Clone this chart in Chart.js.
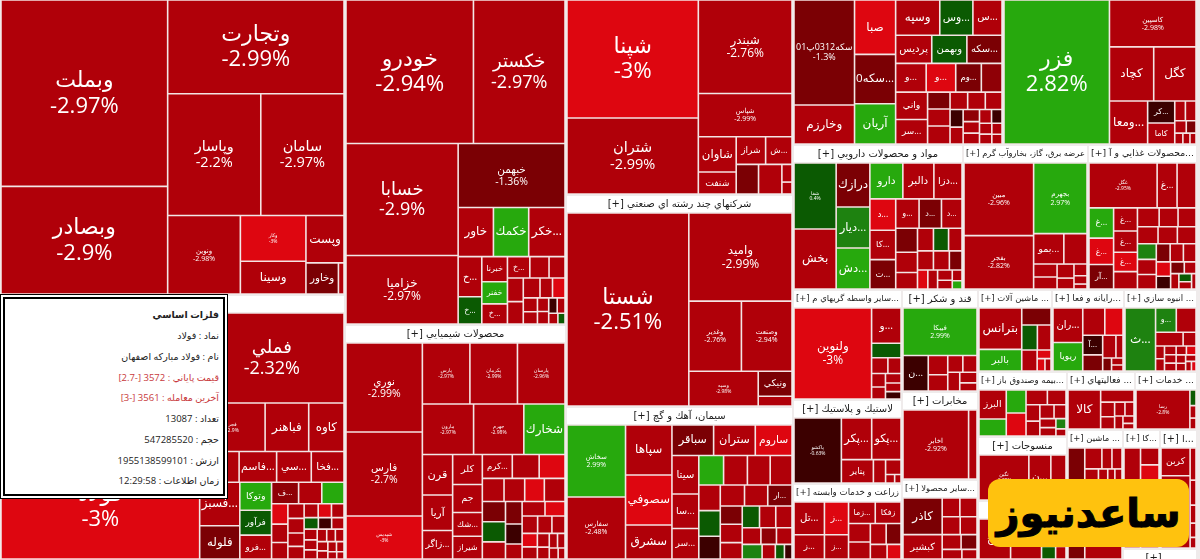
<!DOCTYPE html>
<html lang="fa">
<head>
<meta charset="utf-8">
<style>
html,body{margin:0;padding:0;background:#efebeb;width:1200px;height:559px;overflow:hidden}
#wrap{position:relative;width:1200px;height:559px}
canvas{position:absolute;left:0;top:0}
#tip{position:absolute;left:0;top:294px;width:228px;height:205px;box-sizing:border-box;background:#fff;border:1px solid #000;font-family:"Open Sans","DejaVu Sans",sans-serif;color:#222}
#tip .in{position:absolute;left:2px;top:2px;right:2px;bottom:2px;border:2px solid #000;background:#fff}
#tip p{position:absolute;right:4px;margin:0;direction:rtl;white-space:nowrap;line-height:14px;font-size:9.5px}
#tip .r{color:#c8393c}
#mark{position:absolute;left:988px;top:479px;width:201px;height:68px;background:#ffc20e;border-radius:12px;display:flex;align-items:center;justify-content:center;font:bold 40px "DejaVu Sans",sans-serif;color:#000;direction:rtl;-webkit-text-stroke:1px #000}
</style>
</head>
<body>
<div id="wrap">
<canvas id="c" width="1200" height="559"></canvas>
<div id="tip"><div class="in">
<p style="top:9px;font-weight:bold">فلزات اساسي</p>
<p style="top:30px">نماد : فولاد</p>
<p style="top:51px">نام : فولاد مباركه اصفهان</p>
<p style="top:72px" class="r">قيمت پاياني : 3572 [-2.7]</p>
<p style="top:92px" class="r">آخرين معامله : 3561 [-3]</p>
<p style="top:113px">تعداد : 13087</p>
<p style="top:134px">حجم : 547285520</p>
<p style="top:155px">ارزش : 1955138599101</p>
<p style="top:175px">زمان اطلاعات : 12:29:58</p>
</div></div>
<div id="mark">ساعدنیوز</div>
</div>
<script src="https://cdn.jsdelivr.net/npm/chart.js@4"></script>
<script>
const sectorNames=['بانكها','فلزات اساسي','خودرو و ساخت قطعات','محصولات شيميايي','فرآورده هاي نفتي','شركتهاي چند رشته اي صنعتي','سيمان، آهك و گچ','سرمايه گذاريها','استخراج كانه هاي فلزي','مواد و محصولات دارويي','عرضه برق، گاز، بخاروآب گرم','محصولات غذايي و آ...','ساير واسطه گريهاي م...','لاستيك و پلاستيك','زراعت و خدمات وابسته','قند و شكر','مخابرات','ساير محصولا...','ماشين آلات ...','رايانه و فعا...','انبوه سازي ...','بيمه وصندوق باز...','منسوجات','ساير ...','فعاليتهاي ...','خدمات ...','ماشين ...','كا...','ا...','...'];
const sectorWeights=[107985,91425,75803,51935,48351,48124,34731,34230,31622,24650,18125,15805,11990,9156,8284,7752,6688,6080,6068,5904,5986,5785,5696,5251,3944,3596,7280,4403,4403,814];
const sectorStrips=[2,2,3,-2,-3,3,3,-3,3,-2,1,-2,-1];

const stockNames=[
['وبملت','وبصادر','وتجارت','وپاسار','سامان','ونوين','وكار','وسينا','وپست','وخاور'],
['','فولاد','فملي','فجر','فباهنر','كاوه','','فاسم...','سي...','فخا...','فسبز...','فلوله','وتوكا','فرآور','فرو...','ف...'],
['خودرو','خكستر','خسابا','خزاميا','خبهمن','خاور','خكمك','خكر...','خ...','خ...','خبرنا','خفنر','خ...','خ...'],
['نوري','فارس','شپديس','پارس','پكرمان','پارسان','مارون','جهرم','شخارك','قرن','آريا','زاگر...','كلر','جم','شك...','شيراز','كرم...'],
['شپنا','شتران','شبندر','شپاس','شاوان','شنفت','شراز','ش...'],
['شستا','واميد','وغدير','وصنعت','وسپه','ونيكي'],
['سخاش','سفارس','سپاها','سصوفي','سشرق','سباقر','ستران','ساروم','سيتا','سا...','سر...','','','','','','','','','','ار...'],
['سكه0312پ01','وخارزم','صبا','سكه0...','آريان','وسپه','وس...','س...','پرديس','وبهمن','سكه...','و...','و...','وم...','','واني','سر...'],
['فزر','كاسپين','كچاد','كگل','ومعا...','كر...','كاما'],
['شفا','بخش','درازك','ديار...','دش...','دارو','دالبر','دزا...','د...','كا...','ت...','و...','د...','د...'],
['مبين','بفجر','بجهرم','بمو...'],
['غگل','غ...','','غ...','غ...','آر...','غ...','غ...','غ...'],
['ولنوين','و...'],
['پاكشو','پكر...','پكو...','پتاير'],
['تل...','ز...','ز...','ز...','زما...','زفكا'],
['فيبكا','ن...'],
['اخابر'],
['كاذر','كبشير'],
['بترانس','بالبر'],
['ران...','ريويا','','','آ...'],
['ث...','و...'],
['البرز'],
['نگين','ن...'],
['ح...'],
['كالا'],
['رسا'],
[],
[],
['كربن'],
[]
];
const stockWeights=[
[31062,17869,16461,11253,10043,5621,2925,2080,1739,960,150],
[28200,20600,12900,3100,2050,1650,1160,1102,1015,957,1680,1280,837,744,713,540,460,440,300,270,240,210,210,190,180,170,160,150,140,130,120,120,110,100,100,90,90,80,70,70,60,50,40],
[18161,13013,12430,7571,6720,1666,1666,1715,897,598,600,525,475,440,374,308,340,320,300,220,220,170,150,130,120,110,100,80,60],
[6688,6308,3192,2820,2820,2820,2500,2450,2000,1170,1020,810,840,780,660,630,672,600,576,460,437,414,437,430,430,360,340,300,220,300,260,240,220,200,180,160,140,120,100,90,80,60],
[15210,9750,8556,3906,1258,777,756,675,609,638,153,99],
[23353,8961,3588,3450,2330,792,297],
[4047,3477,2205,2205,1485,1189,1189,1044,962,858,754,672,644,616,588,500,500,440,460,440,460,360,360,320,336,315,315,272,224,224,255,165,110,90],
[6136,2242,2120,1920,1560,1462,1088,952,945,918,918,810,783,675,540,810,720,340,340,360,270,270,255,200,190,170,160,150,140,120,110,100,90,80],
[14872,3915,2288,2184,1554,546,520,180,180,120,100,70,60,50],
[2535,2301,1333,1240,1240,1056,992,896,713,667,667,600,575,525,450,378,306,306,289,255,256,256,200,160,150,120,100,80,60],
[4970,3640,3692,870,660,273,252,210,160,130,90,50],
[2814,798,756,660,572,528,483,441,399,357,352,304,288,300,280,270,250,240,230,210,200,190,170,150,130,110,100,80,70,50],
[7290,1032,408,240,190,170,150,130,120,100],
[2961,1189,1148,693,252,200,60,40],
[952,700,748,550,540,520,370,340,300,280,220,180],
[3450,851,342,288,225,210,200,160,120],
[4356,528],
[1330,875,290,280,280,260,240,200,160,120],
[1722,882,464,360,312,294,100,80,60],
[918,756,528,432,336,272,255,130,90,60,50],
[1764,440,418,324,144,90,85,80,75,70,70,65,60,55,50,40,30],
[784,448,440,440,300,260,210,190,180,150,130,120,90,60],
[2315,1000,680],
[1100,600,450,300,250,140,100],
[1476,448,220,180,150,130,110,80,60],
[2320,90,70,60],
[1665,300,170,170,300,200,150,150,1300,800],
[1700,300,280,600,350,270],
[784,2100,170,130,90,70,50],
[500]
];
const stockChanges=[
[-2.97,-2.9,-2.99,-2.2,-2.97,-2.98,-3,-2.9,-2.9,-1.5,-2.9],
[-2.9,-3,-2.32,-2.9,-2.9,-2.9,-2.9,-2.9,-2.9,-2.9,-2.9,-1.5,2.8,0.9,-2.9,-1.6,-2.9,2.7,-3,-2.9,-2.9,-2.9,-2.9,-2.9,-2.9,-2.9,-3,-2.9,0.6,-0.6,-2.9,-2.9,-2.9,-2.9,-2.9,-2.9,-2.9,-2.9,-2.9,-2.9,-2.9,-2.9,-2.9],
[-2.94,-2.97,-2.9,-2.97,-1.36,-2.9,2.8,-2.9,-2.9,0.5,-2.9,2.8,-2.9,-2.9,-2.9,-2.9,-2.9,-2.9,-2.9,-2.9,-3,-2.9,-2.9,-2.9,-2.9,-0.5,-2.9,-2.9,0.6],
[-2.99,-2.7,-3,-2.97,-2.99,-2.96,-2.97,-2.98,2.8,-2.9,-2.9,-2.9,-2.9,-2.9,-2.9,-2.9,-2.9,-2.9,-3,-2.9,-2.9,-3,-2.9,-1.5,0.9,-2.9,-1.5,-0.5,-2.9,-2.9,-3,-2.9,-2.9,-2.9,-3,-2.9,-2.9,-2.9,-2.9,-2.9,-2.9,-2.9],
[-3,-2.99,-2.76,-2.99,-2.9,-2.9,-2.9,-2.9,-1.4,-2.9,-2.9,-2.9],
[-2.51,-2.99,-2.76,-2.94,-2.98,-1.5,-2.9],
[2.99,-2.48,-2.9,-3,-2.9,-1.5,-2.9,-3,-2.9,-2.9,-2.9,2.8,-2.9,-2.9,-2.9,-2.9,0.4,-0.5,-2.9,-2.9,-1.5,-1.5,-2.9,-2.9,0.4,-2.9,-2.9,-2.9,-1.6,-2.9,1.5,-2.9,0.4,-0.7],
[-1.3,-2.9,-3,-1.3,2.8,-2.9,0.4,-2.9,-2.9,0.4,-1.4,-2.9,-3,-1.4,-1.6,-2.9,-2.9,-1.5,-2.9,-2.9,-2.9,-2.9,-2.9,-0.5,-2.9,-1.6,-2.9,-2.9,-2.9,-0.5,-2.9,-2.9,-2.9,-2.9],
[2.82,-2.98,-2.9,-2.9,-2.9,-0.5,-2.9,-2.9,-2.9,-2.9,-1.5,-2.9,-2.9,-2.9],
[0.4,-2.9,-1.4,1.3,2.8,2.8,-2.9,-2.9,-3,-2.9,-1.2,-2.9,-1.4,-2.9,-1.5,-2.9,-2.9,-2.9,0.4,-2.9,-2.9,-2.9,-1.5,-3,-2.9,-2.9,-2.9,-2.9,2.7],
[-2.96,-2.82,2.97,-2.9,-2.9,-2.9,-2.9,-2.9,-2.9,-2.9,-2.9,-2.9],
[-2.95,-2.9,-2.9,2.8,-3,-1.5,-2.9,-2.9,-3,-2.9,-2.9,-2.9,-2.9,-2.9,-2.9,-2.9,1.3,-2.9,-2.9,-1.5,-2.9,-2.9,-3,-0.6,-1.4,-2.9,-2.9,0.4,-2.9,-2.9],
[-3,-2.9,0.4,-2.9,-2.9,-2.9,-2.9,-2.9,-2.9,-0.6],
[-0.63,-2.9,-2.9,-2.9,-2.9,-2.9,-2.9,-2.9],
[-2.9,-2.9,-3,-2.9,-2.9,-2.9,-2.9,-2.9,-2.9,-1.4,-2.9,-3],
[2.99,-0.6,-2.9,-2.9,-2.9,-2.9,-2.9,-2.9,-2.9],
[-2.92,-2.9],
[-1.4,-2.9,-2.9,-2.9,-2.9,-2.9,-2.9,-1.4,-2.9,-2.9],
[-2.9,2.8,-1.4,0.4,-2.9,-2.9,-3,-3,-2.9],
[-2.9,2.8,-2.9,-3,-0.5,-1.4,-2.9,-2.9,-1.5,-2.9,-2.9],
[1.3,1.5,-2.9,-2.9,-2.9,-2.9,-2.9,-2.9,-2.9,-2.9,-2.9,-3,-2.9,-2.9,-2.9,-2.9,-3],
[-2.9,2.8,2.8,-3,-2.9,-2.9,-2.9,-2.9,-2.9,-2.9,-2.9,-2.9,1.3,-2.9],
[-2.95,-2.9,-2.9],
[-2.9,-2.9,-2.9,-2.9,-3,0.4,-2.9],
[-2.9,-2.9,-2.9,-2.9,-2.9,-2.9,-2.9,-2.9,-2.9],
[-2.8,0.4,-2.9,-2.9],
[-1.4,-2.9,-2.9,-2.9,-2.9,-2.9,-2.9,-2.9,-2.9,-2.9],
[-2.9,-2.9,-3,-2.9,-2.9,-2.9],
[-2.9,-2.9,-2.9,-2.9,-2.9,-2.9,-2.9],
[-2.9]
];
const stockStrips=[
[2,-1,-2,1,2,-1,1,1],
[2,-1,-3,-4,2,3,-3],
[-2,2,-1,-3,2,3,-3],
[3,-3,-3,3,4,-3,-4,3,3],
[2,-1,-1,2,-2,1,1,2],
[1,-1,-2,1,-1,-1],
[2,3,-3,3,-4,3,-3,3,-3,-3,-4],
[2,3,-3,-3,-4,2,3,-3],
[1,-1,-2,1,2],
[2,3,-3,3,-3,3,-3,-3],
[2,-1,-2],
[-3,3,4,-3],
[1,-1,-1],
[1,-2,1],
[2,2,-2],
[-1,1,2],
[1,1],
[2,-2,-2,-2],
[2,-1,-2,1],
[2,-2,2,-2],
[1,-2,-2],
[2,2,-2],
[1,1,1],
[],
[1,-1],
[1],
[1,-3,-4],
[1,-1,-1,-1],
[2],
[1]
];

const ROOT={x0:0,y0:-18,x1:1197,y1:560};
const HEADER=18;
const CELL_GAP=1;

/* strip > 0: a column at the left of what remains; strip < 0: a row at its top; past the list: squarified */
function squarify(weights,rect,strips){
  const out=[];
  const total=weights.reduce((a,b)=>a+b,0);
  const k=(rect.x1-rect.x0)*(rect.y1-rect.y0)/total;
  let {x0,y0,x1,y1}=rect,i=0,s=0;
  const worst=(sum,max,min,side)=>Math.max(side*side*max/(sum*sum),sum*sum/(side*side*min));
  while(i<weights.length){
    const w=x1-x0,h=y1-y0,side=Math.min(w,h);
    let n,asColumn=w>=h;
    if(strips&&s<strips.length){const v=strips[s++];n=Math.abs(v);asColumn=v>0;}
    else{
      n=1;const a=weights[i]*k;let sum=a,mx=a,mn=a,best=worst(sum,mx,mn,side);
      while(i+n<weights.length){
        const v=weights[i+n]*k,ns=sum+v,nx=Math.max(mx,v),nn=Math.min(mn,v),t=worst(ns,nx,nn,side);
        if(t>best)break;
        sum=ns;mx=nx;mn=nn;best=t;n++;
      }
    }
    n=Math.min(n,weights.length-i);
    let sum=0;for(let j=i;j<i+n;j++)sum+=weights[j]*k;
    if(asColumn){
      const cw=sum/h;let y=y0;
      for(let j=i;j<i+n;j++){const ch=weights[j]*k/cw;out.push({x0:x0,y0:y,x1:x0+cw,y1:y+ch});y+=ch;}
      x0+=cw;
    }else{
      const ch=sum/w;let x=x0;
      for(let j=i;j<i+n;j++){const cw=weights[j]*k/ch;out.push({x0:x,y0:y0,x1:x+cw,y1:y0+ch});x+=cw;}
      y0+=ch;
    }
    i+=n;
  }
  return out;
}

const sectorRects=squarify(sectorWeights,ROOT,sectorStrips);

function colorOf(c){
  if(c<=-3)return '#de0610';
  if(c<-2)return '#b00009';
  if(c<-1.55)return '#8f0006';
  if(c<-1)return '#7b0004';
  if(c<0)return '#3c0000';
  if(c<1)return '#0b5a02';
  if(c<2)return '#1e8210';
  return '#27a90d';
}

class TreemapController extends Chart.DatasetController{
  update(){
    const meta=this._cachedMeta,xs=this.chart.scales.x,ys=this.chart.scales.y;
    const r=sectorRects[this.index];
    const top=r.y0+HEADER;
    const inner={x0:r.x0+1,y0:top,x1:r.x1-1,y1:Math.max(r.y1-1,top+1)};
    const padded=this.getDataset().data.map(v=>(Math.sqrt(v)+CELL_GAP)**2);
    const rects=squarify(padded,inner,stockStrips[this.index]);
    const chg=stockChanges[this.index];
    meta.data.forEach((el,i)=>{
      const q=rects[i];
      const px0=xs.getPixelForValue(q.x0),px1=xs.getPixelForValue(q.x1);
      const py0=ys.getPixelForValue(q.y0),py1=ys.getPixelForValue(q.y1);
      el.x=(px0+px1)/2;el.width=px1-px0;el.y=py0;el.base=py1;el.height=py1-py0;
      el.horizontal=false;el.borderSkipped={};el.enableBorderRadius=false;el.inflateAmount=0;
      el.options={backgroundColor:colorOf(chg[i]),borderColor:'#f7dede',borderWidth:0.8,borderRadius:0,inflateAmount:0};
    });
  }
  draw(){
    const ctx=this.chart.ctx;
    this._cachedMeta.data.forEach(el=>el.draw(ctx));
  }
}
TreemapController.id='treemap';
TreemapController.defaults={dataElementType:'bar',datasetElementType:false};
Chart.register(TreemapController);

const FONT='"Open Sans","DejaVu Sans",sans-serif';
function labelSize(w){
  if(w>=14000)return 22;
  if(w>=12000)return 18;
  if(w>=9500)return 14.5;
  if(w>=7000)return 12;
  if(w>=6000)return 10.5;
  if(w>=3400)return 7;
  if(w>=2310)return 5;
  return 0;
}
const labelPlugin={
  id:'labels',
  afterDatasetsDraw(chart){
    const ctx=chart.ctx,xs=chart.scales.x,ys=chart.scales.y;
    ctx.save();
    ctx.textAlign='center';ctx.textBaseline='middle';
    chart.data.datasets.forEach((ds,si)=>{
      const meta=chart.getDatasetMeta(si);
      meta.data.forEach((el,i)=>{
        const name=stockNames[si][i],w=ds.data[i];
        if(!name)return;
        let fs=labelSize(w);
        const cw=el.width,ch=el.height;
        ctx.fillStyle='#fff';
        if(fs){
          ctx.font=fs+'px '+FONT;
          const tw=ctx.measureText(name).width;
          if(tw>cw-4){fs=fs*(cw-4)/tw;ctx.font=fs+'px '+FONT;}
          ctx.fillText(name,el.x,el.y+ch/2-fs*0.55);
          ctx.fillText(stockChanges[si][i]+'%',el.x,el.y+ch/2+fs*0.6);
        }else{
          let size=Math.min(12,Math.max(8,Math.sqrt(w)*0.33));
          ctx.font=size+'px '+FONT;
          const tw=ctx.measureText(name).width;
          if(tw>cw-3){size=size*(cw-3)/tw;ctx.font=size+'px '+FONT;}
          ctx.fillText(name,el.x,el.y+ch/2);
        }
      });
      const r=sectorRects[si];
      const top=ys.getPixelForValue(r.y0);
      if(top>=0){
        const l=xs.getPixelForValue(r.x0)+1,rt=xs.getPixelForValue(r.x1)-1;
        ctx.fillStyle='#fff';
        ctx.fillRect(l,top+1,rt-l,HEADER-2);
        ctx.fillStyle='#1a1a1a';
        let hs=10;
        ctx.font=hs+'px "DejaVu Sans",sans-serif';
        const label='[+] '+sectorNames[si];
        const tw=ctx.measureText(label).width;
        if(tw>rt-l-4){hs=hs*(rt-l-4)/tw;ctx.font=hs+'px "DejaVu Sans",sans-serif';}
        ctx.fillText(label,(l+rt)/2,top+HEADER/2);
      }
    });
    ctx.restore();
  }
};

new Chart(document.getElementById('c'),{
  type:'treemap',
  data:{datasets:sectorNames.map((n,i)=>({label:n,data:stockWeights[i]})),labels:stockNames[0]},
  options:{
    responsive:false,animation:false,events:[],
    layout:{padding:0},
    plugins:{legend:{display:false},tooltip:{enabled:false},title:{display:false}},
    scales:{
      x:{type:'linear',display:false,min:0,max:1200},
      y:{type:'linear',display:false,min:0,max:559,reverse:true}
    }
  },
  plugins:[labelPlugin]
});
</script>
</body>
</html>
